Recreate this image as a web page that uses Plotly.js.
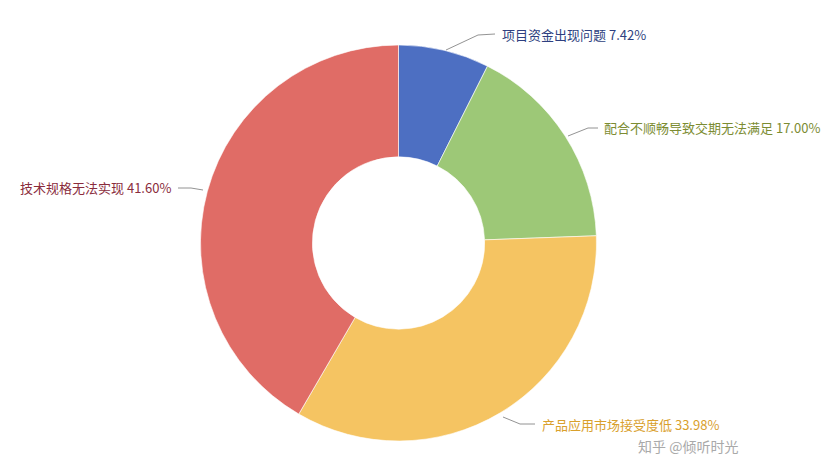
<!DOCTYPE html>
<html><head><meta charset="utf-8">
<script src="https://cdn.plot.ly/plotly-3.0.1.min.js"></script>
<style>html,body{margin:0;padding:0;background:#fff}#chart{width:830px;height:460px}</style>
</head><body><div id="chart"></div>
<script>
const categories = ['项目资金出现问题', '配合不顺畅导致交期无法满足', '产品应用市场接受度低', '技术规格无法实现'];
const values = [7.42, 17.00, 33.98, 41.60];
const sliceColors = ['#4d6fc2', '#9dc877', '#f5c462', '#e06c66'];
const labelColors = ['#2e3f80', '#7c8c32', '#d9a02c', '#8a2c3c'];

const W = 830, H = 460;
const cx = 398.5, cy = 243, R = 198;
const px = x => x / W, py = y => 1 - y / H;

const labelPos = [
  {x: 500, y: 34, anchor: 'left', path: [[446,50],[478,35],[495,34]]},
  {x: 602, y: 128, anchor: 'left', path: [[568,136],[588,128],[598,128]]},
  {x: 540, y: 424, anchor: 'left', path: [[503,417],[520,424],[535,424]]},
  {x: 173, y: 187, anchor: 'right', path: [[178,188],[191,188],[203,190]]}
];

const annotations = categories.map((c, i) => ({
  xref: 'paper', yref: 'paper', x: px(labelPos[i].x), y: py(labelPos[i].y),
  xanchor: labelPos[i].anchor, yanchor: 'middle', showarrow: false,
  text: c + ' ' + values[i].toFixed(2) + '%',
  font: {family: 'Noto Sans CJK SC', size: 13, color: labelColors[i]}
}));
annotations.push({
  xref: 'paper', yref: 'paper', x: px(636), y: py(446), xanchor: 'left', yanchor: 'middle',
  showarrow: false, text: '知乎 @倾听时光',
  font: {family: 'Noto Sans CJK SC', size: 14, color: '#a9a9a9'}
});

const shapes = labelPos.map((p, i) => ({
  type: 'path', xref: 'paper', yref: 'paper',
  path: 'M' + p.path.map(q => px(q[0]) + ',' + py(q[1])).join(' L'),
  line: {color: '#777', width: 0.8}
}));

const trace = {
  type: 'pie', labels: categories, values: values, hole: 0.435,
  sort: false, direction: 'clockwise', rotation: 0,
  marker: {colors: sliceColors, line: {color: '#ffffff', width: 0.6}},
  textinfo: 'none', hoverinfo: 'label+percent',
  domain: {x: [px(cx - R), px(cx + R)], y: [py(cy + R), py(cy - R)]}
};

Plotly.newPlot('chart', [trace], {
  width: W, height: H, margin: {l: 0, r: 0, t: 0, b: 0},
  paper_bgcolor: '#ffffff', showlegend: false,
  annotations: annotations, shapes: shapes
}, {displayModeBar: false, staticPlot: true});
</script></body></html>
